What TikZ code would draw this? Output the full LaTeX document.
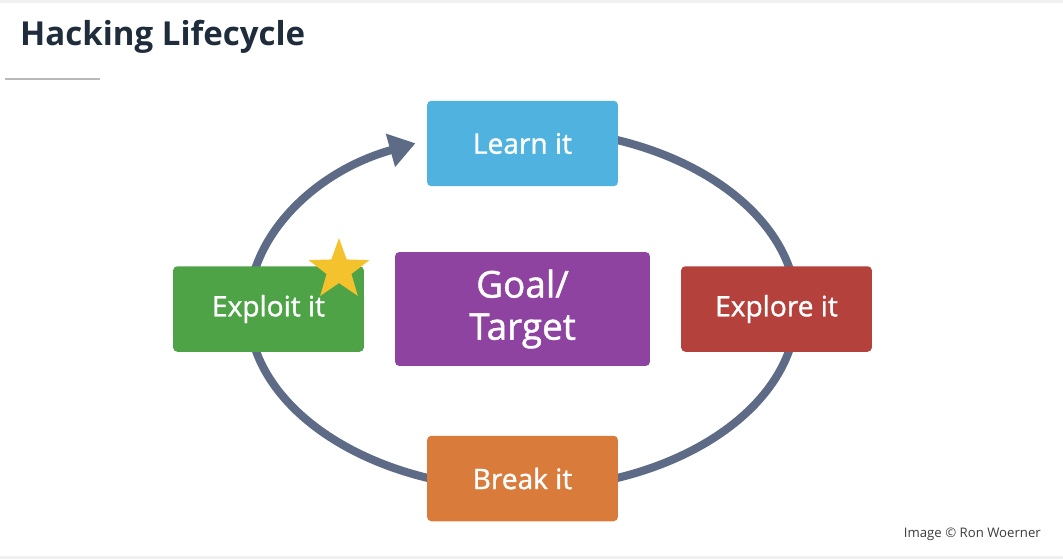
\documentclass[tikz,border=0pt]{standalone}
\usepackage{fontspec}
\setmainfont{Open Sans}
\newfontfamily\stepfont{Open Sans}[FakeBold=1.2]
\usetikzlibrary{arrows.meta,shapes.geometric}

\definecolor{learnblue}{HTML}{50B3DF}
\definecolor{exploitgreen}{HTML}{4EA347}
\definecolor{goalpurple}{HTML}{8E43A1}
\definecolor{explorered}{HTML}{B4413B}
\definecolor{breakorange}{HTML}{D97B3B}
\definecolor{ringslate}{HTML}{5D6B86}
\definecolor{staryellow}{HTML}{F3C22C}
\definecolor{titleink}{HTML}{1F2C3B}
\definecolor{creditink}{HTML}{3C3C3C}

\begin{document}
\begin{tikzpicture}[x=0.02cm,y=0.02cm]
\tikzset{ >={Triangle[length=0.52cm,width=0.66cm]},
  stepbox/.style={rounded corners=2.5pt, minimum width=3.82cm, minimum height=1.71cm,
    text=white, font=\stepfont\fontsize{16}{18}\selectfont, inner sep=0pt},
  ring/.style={ringslate, line width=4.6pt},
}
%\draw [lightgray] (0,0) grid[step=50] (1063,-559);
\useasboundingbox (0,0) rectangle (1063,-559);
\fill [gray!12] (0,0) rectangle (1063,-3);
\fill [gray!12] (0,-556) rectangle (1063,-559);

\coordinate (hub) at (522.5,-309);
\draw [ring, ->] ([shift={(90:274 and 180)}]hub) arc [start angle=90, end angle=-247, x radius=274, y radius=180];

\node [stepbox, fill=learnblue]    (learn)   at (522.5,-143.5) {Learn it};
\node [stepbox, fill=exploitgreen] (exploit) at (268.5,-309)   {Exploit it};
\node [stepbox, fill=explorered]   (explore) at (776.5,-309)   {Explore it};
\node [stepbox, fill=breakorange]  (break)   at (522.5,-478.5) {Break it};
\node [stepbox, fill=goalpurple, minimum width=5.1cm, minimum height=2.28cm,
  align=center, font=\stepfont\fontsize{21}{24}\selectfont] (goal) at (hub) {Goal/\\Target};

\node [star, star points=5, star point ratio=2.45, fill=staryellow, minimum size=1.28cm,
  inner sep=0pt] (star) at (339,-270) {};

\node [anchor=base west, text=titleink, font=\fontsize{18.8}{22}\selectfont\bfseries]
  (title) at (14,-45) {Hacking Lifecycle};
\draw [gray!55, line width=1.2pt] (5,-79) -- (100,-79);

\node [anchor=base east, text=creditink, font=\fontsize{7.5}{9}\selectfont]
  (credit) at (1047,-537) {Image © Ron Woerner};

\end{tikzpicture}
\end{document}
